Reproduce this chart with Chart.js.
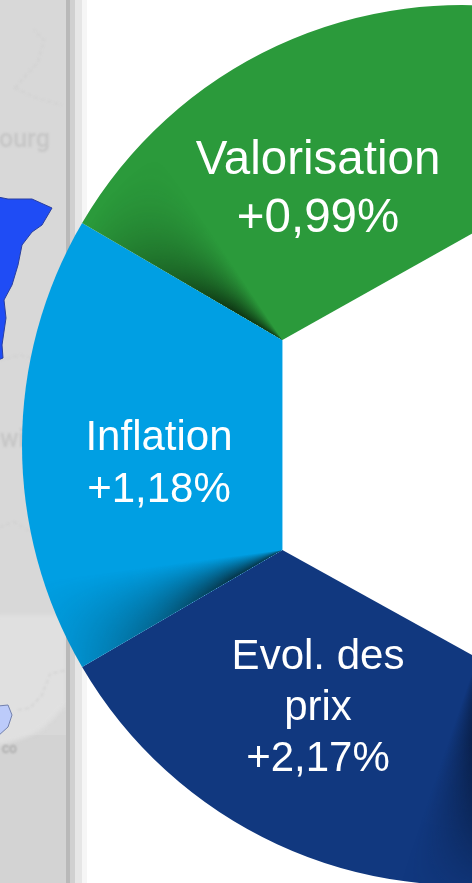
<!DOCTYPE html>
<html>
<head>
<meta charset="utf-8">
<style>
html,body{margin:0;padding:0;width:472px;height:883px;overflow:hidden;background:#fff}
canvas{display:block;position:absolute;left:0;top:0}
</style>
<script src="https://cdn.jsdelivr.net/npm/chart.js@4/dist/chart.umd.min.js"></script>
</head>
<body>
<canvas id="c" width="924" height="890"></canvas>
<script>
// Clockwise from the bottom of the wheel; the last sector is the unseen remainder
const categories = ["Evol. des prix", "Inflation", "Valorisation", ""];
const rates = ["+2,17%", "+1,18%", "+0,99%"];
const sectorSweep = [69.7, 60.6, 69.7, 160];
const sectorColors = ["#11387f", "#009fe3", "#2b9a3b", "rgba(0,0,0,0)"];
const labelLines = [["Evol. des", "prix", "+2,17%"], ["Inflation", "+1,18%"], ["Valorisation", "+0,99%"]];

const toRad = d => d * Math.PI / 180;
const HUB = 208;

function panelBackdrop(ctx) {
  ctx.save();
  ctx.fillStyle = "#d8d8d8"; ctx.fillRect(0, 0, 66, 890);
  ctx.fillStyle = "#d3d3d3"; ctx.fillRect(0, 735, 66, 155);
  ctx.filter = "blur(2px)";
  ctx.fillStyle = "#e0e0e0";
  ctx.beginPath(); ctx.moveTo(-4, 615); ctx.lineTo(66, 615); ctx.lineTo(66, 705);
  ctx.quadraticCurveTo(50, 722, 43, 728); ctx.quadraticCurveTo(30, 738, -4, 746); ctx.closePath(); ctx.fill();
  ctx.filter = "blur(1px)";

  ctx.strokeStyle = "#cfcfcf"; ctx.lineWidth = 1.2; ctx.setLineDash([4, 3]);
  [[[18,710],[30,708],[42,695],[50,674],[66,670]],
   [[0,360],[20,355],[32,358],[30,372]],
   [[0,527],[14,522],[28,530],[40,528]],
   [[15,88],[38,62],[44,40],[34,30]],
   [[15,88],[36,98],[62,105]]].forEach(path => {
    ctx.beginPath();
    path.forEach((p, i) => i ? ctx.lineTo(p[0], p[1]) : ctx.moveTo(p[0], p[1]));
    ctx.stroke();
  });
  ctx.setLineDash([]);

  ctx.fillStyle = "#c6c6c6";
  ctx.font = "500 25px Roboto, sans-serif";
  ctx.textBaseline = "alphabetic"; ctx.textAlign = "left";
  ctx.fillText("ourg", -1, 147);
  ctx.fillText("wi", 0, 447);
  ctx.fillStyle = "#a9a9a9";
  ctx.font = "bold 11px Roboto, sans-serif";
  ctx.fillText("CO", 2, 753);
  ctx.filter = "blur(0.4px)";

  ctx.fillStyle = "#1f4cf5"; ctx.strokeStyle = "#2a3f9e"; ctx.lineWidth = 1;
  ctx.beginPath();
  [[-2,197],[8,199],[32,199],[52,208],[42,225],[32,232],[22,245],[18,265],[12,285],[4,300],[6,318],[2,345],[3,358],[-2,360]]
    .forEach((p, i) => i ? ctx.lineTo(p[0], p[1]) : ctx.moveTo(p[0], p[1]));
  ctx.closePath(); ctx.fill(); ctx.stroke();

  ctx.fillStyle = "#bccbfa"; ctx.strokeStyle = "#7280ad";
  ctx.beginPath(); ctx.moveTo(-2, 706); ctx.lineTo(8, 705); ctx.lineTo(12, 715); ctx.lineTo(8, 727); ctx.lineTo(-2, 736);
  ctx.closePath(); ctx.fill(); ctx.stroke();
  ctx.filter = "none";

  ctx.fillStyle = "#b9b9b9"; ctx.fillRect(66, 0, 4, 890);
  ctx.fillStyle = "#d0d0d0"; ctx.fillRect(70, 0, 5, 890);
  ctx.fillStyle = "#e6e6e6"; ctx.fillRect(75, 0, 7, 890);
  ctx.fillStyle = "#f6f6f6"; ctx.fillRect(82, 0, 5, 890);
  ctx.restore();
}

function wedgeShade(chart, arc, apex, dirDeg, spanDeg, rgb, peak, fade) {
  const off = document.createElement("canvas");
  off.width = chart.width; off.height = chart.height;
  const o = off.getContext("2d");
  const g = o.createConicGradient(toRad(dirDeg), apex.x, apex.y);
  g.addColorStop(0, `rgba(${rgb},${peak})`);
  g.addColorStop(spanDeg * 0.45 / 360, `rgba(${rgb},${peak * 0.55})`);
  g.addColorStop(spanDeg / 360, `rgba(${rgb},0)`);
  g.addColorStop(1, `rgba(${rgb},0)`);
  o.fillStyle = g; o.fillRect(0, 0, off.width, off.height);
  o.globalCompositeOperation = "destination-in";
  const r = o.createRadialGradient(apex.x, apex.y, 0, apex.x, apex.y, fade[fade.length - 1][0]);
  fade.forEach(f => r.addColorStop(f[0] / fade[fade.length - 1][0], `rgba(0,0,0,${f[1]})`));
  o.fillStyle = r; o.fillRect(0, 0, off.width, off.height);
  const ctx = chart.ctx;
  ctx.save();
  ctx.beginPath();
  ctx.moveTo(arc.x, arc.y);
  ctx.arc(arc.x, arc.y, arc.outerRadius, arc.startAngle, arc.endAngle);
  ctx.closePath(); ctx.clip();
  ctx.drawImage(off, 0, 0);
  ctx.restore();
}

const wheelDecor = {
  id: "wheelDecor",
  beforeDraw(chart) { panelBackdrop(chart.ctx); },
  afterDatasetsDraw(chart) {
    const ctx = chart.ctx;
    const [navy, blue, green] = chart.getDatasetMeta(0).data;
    const cx = blue.x, cy = blue.y;
    const at = a => ({ x: cx + HUB * Math.cos(a), y: cy + HUB * Math.sin(a) });
    const top = at(blue.endAngle), low = at(blue.startAngle);

    wedgeShade(chart, green, top, blue.endAngle * 180 / Math.PI, 26, "10,40,14", 0.88,
      [[0, 1], [60, 1], [125, 0.55], [225, 0]]);
    wedgeShade(chart, blue, low, blue.startAngle * 180 / Math.PI, 23, "6,44,60", 0.92,
      [[0, 1], [60, 1], [140, 0.55], [235, 0.15]]);
    wedgeShade(chart, navy, { x: cx + 18, y: cy + 205 }, 88, 21, "6,20,48", 0.95,
      [[0, 1], [90, 1], [165, 0.6], [235, 0.15]]);

    ctx.save();
    ctx.fillStyle = "#fff";
    ctx.beginPath();
    ctx.moveTo(top.x, top.y);
    ctx.lineTo(top.x + 400 * Math.cos(toRad(29.3)), top.y - 400 * Math.sin(toRad(29.3)));
    ctx.lineTo(low.x + 400 * Math.cos(toRad(29)), low.y + 400 * Math.sin(toRad(29)));
    ctx.lineTo(low.x, low.y);
    ctx.closePath(); ctx.fill();

    ctx.fillStyle = "#fff";
    ctx.textAlign = "center"; ctx.textBaseline = "alphabetic";
    const place = [
      { x: 318, ys: [669, 720, 771], size: 42 },
      { x: 159, ys: [450, 502], size: 42 },
      { x: 318, ys: [174, 232], size: 47.5 }
    ];
    labelLines.forEach((lines, i) => {
      ctx.font = place[i].size + 'px "Liberation Sans", Arial, sans-serif';
      lines.forEach((t, k) => ctx.fillText(t, place[i].x, place[i].ys[k]));
    });
    ctx.restore();
  }
};

new Chart(document.getElementById("c"), {
  type: "doughnut",
  data: {
    labels: categories,
    datasets: [{ data: sectorSweep, backgroundColor: sectorColors, borderWidth: 0 }]
  },
  options: {
    responsive: false,
    animation: false,
    cutout: 0,
    radius: 440,
    rotation: 170,
    layout: { padding: 0 },
    plugins: { legend: { display: false }, tooltip: { enabled: false } }
  },
  plugins: [wheelDecor]
});
</script>
</body>
</html>
